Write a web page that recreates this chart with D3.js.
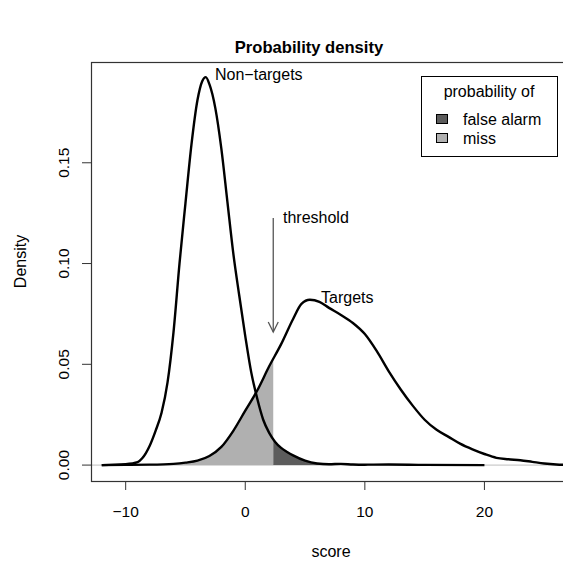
<!DOCTYPE html>
<html>
<head>
<meta charset="utf-8">
<script src="https://cdn.jsdelivr.net/npm/d3@7"></script>
<style>
	body { margin: 0; background: #fff; }
	svg text { font-family: "Liberation Sans", Arial, sans-serif; }
</style>
</head>
<body>
<svg id="chart"></svg>
<script>
// density curves
const targetScores = [-12, -10, -8, -6, -5, -4, -3, -2, -1, 0, 1, 2, 3, 4, 4.7, 5.4, 6.2, 7, 8, 9, 10, 11, 12, 13, 14, 15, 16, 17, 18, 19, 20, 21, 22, 23, 24, 25, 26, 27, 29];
const targetDensity = [0, 0.0001, 0.0002, 0.0006, 0.0012, 0.0022, 0.0045, 0.009, 0.017, 0.027, 0.037, 0.049, 0.06, 0.0725, 0.08, 0.082, 0.081, 0.078, 0.0745, 0.0705, 0.065, 0.0565, 0.0465, 0.0375, 0.0295, 0.0225, 0.0175, 0.014, 0.0105, 0.0078, 0.0055, 0.0036, 0.0029, 0.0024, 0.0016, 0.0008, 0.0003, 0.0001, 0];

const nonTargetScores = [-12, -10, -9, -8.6, -8, -7.5, -7, -6.5, -6, -5.5, -5, -4.5, -4, -3.6, -3.3, -3, -2.5, -2, -1.5, -1, -0.5, 0, 0.5, 1, 1.5, 2, 2.5, 3, 3.5, 4, 5, 6, 7, 8, 9, 10, 12, 15, 20];
const nonTargetDensity = [0, 0.0005, 0.0015, 0.0035, 0.0095, 0.017, 0.026, 0.041, 0.066, 0.1, 0.13, 0.159, 0.181, 0.1905, 0.1925, 0.189, 0.177, 0.157, 0.131, 0.105, 0.084, 0.064, 0.046, 0.033, 0.0225, 0.016, 0.0115, 0.0085, 0.0065, 0.0048, 0.0022, 0.0008, 0.0004, 0.0006, 0.0003, 0.0002, 0.0003, 0.0001, 0];

const threshold = 2.34;

const xTicks = [-10, 0, 10, 20];
const xTickLabels = ['\u221210', '0', '10', '20'];
const yTicks = [0, 0.05, 0.10, 0.15];
const yTickLabels = ['0.00', '0.05', '0.10', '0.15'];

const legendTitle = 'probability of';
const legendLabels = ['false alarm', 'miss'];
const legendColors = ['#5c5c5c', '#b0b0b0'];

const width = 563, height = 563;
const plotLeft = 91, plotTop = 62, plotRight = 610, plotBottom = 481;

const svg = d3.select('#chart')
	.attr('width', width)
	.attr('height', height);

const x = d3.scaleLinear().domain([-12.9, 30.5]).range([plotLeft, plotRight]);
const y = d3.scaleLinear().domain([-0.0079, 0.2]).range([plotBottom, plotTop]);

const targets = targetScores.map((s, i) => ({ s, d: targetDensity[i] }));
const nonTargets = nonTargetScores.map((s, i) => ({ s, d: nonTargetDensity[i] }));

const defs = svg.append('defs');
defs.append('clipPath').attr('id', 'miss-clip')
	.append('rect')
	.attr('x', x(-13)).attr('y', plotTop)
	.attr('width', x(threshold) - x(-13)).attr('height', plotBottom - plotTop);
defs.append('clipPath').attr('id', 'fa-clip')
	.append('rect')
	.attr('x', x(threshold)).attr('y', plotTop)
	.attr('width', x(21) - x(threshold)).attr('height', plotBottom - plotTop);
defs.append('clipPath').attr('id', 'plot-clip')
	.append('rect')
	.attr('x', plotLeft).attr('y', plotTop)
	.attr('width', plotRight - plotLeft).attr('height', plotBottom - plotTop);

const area = d3.area()
	.x(d => x(d.s))
	.y0(y(0))
	.y1(d => y(d.d))
	.curve(d3.curveMonotoneX);
const line = d3.line()
	.x(d => x(d.s))
	.y(d => y(d.d))
	.curve(d3.curveMonotoneX);

// y = 0 reference line
svg.append('line')
	.attr('x1', plotLeft).attr('x2', plotRight)
	.attr('y1', y(0)).attr('y2', y(0))
	.attr('stroke', '#bebebe')
	.attr('stroke-width', 1);

// shaded tails
svg.append('path').datum(targets)
	.attr('d', area)
	.attr('fill', legendColors[1])
	.attr('clip-path', 'url(#miss-clip)');
svg.append('path').datum(nonTargets)
	.attr('d', area)
	.attr('fill', legendColors[0])
	.attr('clip-path', 'url(#fa-clip)');

const curves = svg.append('g').attr('clip-path', 'url(#plot-clip)');
curves.append('path').datum(nonTargets)
	.attr('d', line)
	.attr('fill', 'none')
	.attr('stroke', '#000')
	.attr('stroke-width', 2.4)
	.attr('stroke-linejoin', 'round');
curves.append('path').datum(targets)
	.attr('d', line)
	.attr('fill', 'none')
	.attr('stroke', '#000')
	.attr('stroke-width', 2.4)
	.attr('stroke-linejoin', 'round');

// plot box
svg.append('rect')
	.attr('x', plotLeft + 0.5).attr('y', plotTop + 0.5)
	.attr('width', plotRight - plotLeft).attr('height', plotBottom - plotTop)
	.attr('fill', 'none')
	.attr('stroke', '#333')
	.attr('stroke-width', 1.2);

// x axis
const xAxis = svg.append('g');
xAxis.selectAll('line').data(xTicks).join('line')
	.attr('x1', d => x(d)).attr('x2', d => x(d))
	.attr('y1', plotBottom).attr('y2', plotBottom + 9)
	.attr('stroke', '#333');
xAxis.selectAll('text').data(xTicks).join('text')
	.attr('x', d => x(d)).attr('y', 517)
	.attr('text-anchor', 'middle')
	.attr('font-size', 15.5)
	.text((d, i) => xTickLabels[i]);

// y axis
const yAxis = svg.append('g');
yAxis.selectAll('line').data(yTicks).join('line')
	.attr('x1', plotLeft - 9).attr('x2', plotLeft)
	.attr('y1', d => y(d)).attr('y2', d => y(d))
	.attr('stroke', '#333');
yAxis.selectAll('text').data(yTicks).join('text')
	.attr('transform', d => `translate(69,${y(d)}) rotate(-90)`)
	.attr('text-anchor', 'middle')
	.attr('font-size', 15.5)
	.text((d, i) => yTickLabels[i]);

// titles
svg.append('text')
	.attr('x', 309).attr('y', 53)
	.attr('text-anchor', 'middle')
	.attr('font-size', 16.6)
	.attr('font-weight', 'bold')
	.text('Probability density');
svg.append('text')
	.attr('x', 331).attr('y', 557)
	.attr('text-anchor', 'middle')
	.attr('font-size', 16)
	.text('score');
svg.append('text')
	.attr('transform', `translate(26,${(plotTop + plotBottom) / 2 - 10}) rotate(-90)`)
	.attr('text-anchor', 'middle')
	.attr('font-size', 16)
	.text('Density');

// curve labels
svg.append('text')
	.attr('x', 215).attr('y', 80)
	.attr('font-size', 16)
	.text('Non\u2212targets');
svg.append('text')
	.attr('x', 321).attr('y', 303)
	.attr('font-size', 16)
	.text('Targets');

// threshold arrow
const arrow = svg.append('g').attr('stroke', '#555').attr('fill', 'none').attr('stroke-width', 1.3);
arrow.append('line')
	.attr('x1', x(threshold)).attr('x2', x(threshold))
	.attr('y1', 218).attr('y2', 332);
arrow.append('path')
	.attr('d', `M${x(threshold) - 5},322 L${x(threshold)},332 L${x(threshold) + 5},322`);
svg.append('text')
	.attr('x', 283).attr('y', 223)
	.attr('font-size', 16)
	.text('threshold');

// legend
const legend = svg.append('g');
legend.append('rect')
	.attr('x', 421.5).attr('y', 76.5)
	.attr('width', 136).attr('height', 80)
	.attr('fill', '#fff')
	.attr('stroke', '#000');
legend.append('text')
	.attr('x', 489).attr('y', 97)
	.attr('text-anchor', 'middle')
	.attr('font-size', 16)
	.text(legendTitle);
const rows = legend.selectAll('g.row').data(legendLabels).join('g')
	.attr('class', 'row')
	.attr('transform', (d, i) => `translate(0,${i * 19})`);
rows.append('rect')
	.attr('x', 436.5).attr('y', 114.5)
	.attr('width', 11).attr('height', 9)
	.attr('fill', (d, i) => legendColors[i])
	.attr('stroke', '#000');
rows.append('text')
	.attr('x', 463).attr('y', 125)
	.attr('font-size', 16)
	.text(d => d);
</script>
</body>
</html>
